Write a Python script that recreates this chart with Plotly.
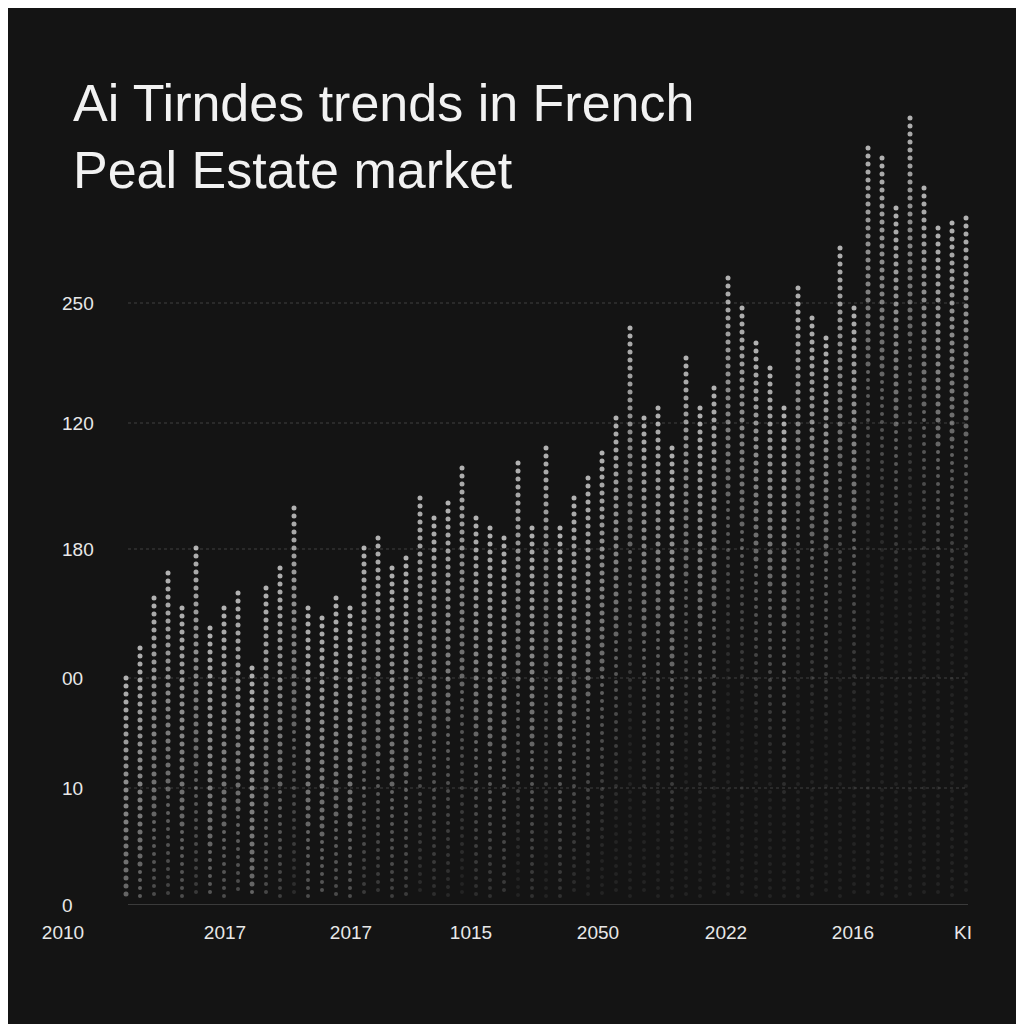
import plotly.graph_objects as go

# column x positions (axis units) and top of each dotted column
col_x = [118, 132, 146, 160, 174, 188, 202, 216, 230, 244, 258, 272, 286, 300, 314,
         328, 342, 356, 370, 384, 398, 412, 426, 440, 454, 468, 482, 496, 510, 524,
         538, 552, 566, 580, 594, 608, 622, 636, 650, 664, 678, 692, 706, 720, 734,
         748, 762, 776, 790, 804, 818, 832, 846, 860, 874, 888, 902, 916, 930, 944, 958]
col_height = [227, 257, 307, 332, 297, 357, 277, 297, 312, 237, 317, 337, 397, 297, 287,
              307, 297, 357, 367, 337, 347, 407, 387, 402, 437, 387, 377, 367, 442, 377,
              457, 377, 407, 427, 452, 487, 577, 487, 497, 457, 547, 497, 517, 627, 597,
              562, 537, 497, 617, 587, 567, 657, 597, 757, 747, 697, 787, 717, 677, 682, 687]

y_tick_vals = [0, 117, 227, 356, 482, 602]
y_tick_text = ["0", "10", "00", "180", "120", "250"]
x_tick_vals = [55, 217, 343, 463, 590, 718, 845, 955]
x_tick_text = ["2010", "2017", "2017", "1015", "2050", "2022", "2016", "ΚΙ"]

xs, ys, cols, sizes = [], [], [], []
for cx, h in zip(col_x, col_height):
    y = h
    while y > 8:
        depth = h - y
        a = max(0.1, 1 - depth / 450)
        xs.append(cx)
        ys.append(y)
        cols.append(f"rgba(245,245,245,{a:.2f})")
        sizes.append(5 if depth < 220 else 4)
        y -= 8

fig = go.Figure()
fig.add_trace(go.Scatter(x=xs, y=ys, mode="markers",
                         marker=dict(color=cols, size=sizes, line=dict(width=0)),
                         hoverinfo="skip", showlegend=False))

# faint gridlines
for v in y_tick_vals[1:]:
    fig.add_shape(type="line", x0=120, x1=960, y0=v, y1=v,
                  line=dict(color="rgba(120,120,120,0.45)", width=1, dash="dot"), layer="below")
fig.add_shape(type="line", x0=120, x1=960, y0=0, y1=0,
              line=dict(color="rgba(150,150,150,0.6)", width=1), layer="below")

for v, t in zip(y_tick_vals, y_tick_text):
    fig.add_annotation(x=52, y=v, text=t, showarrow=False, xanchor="left",
                       font=dict(size=19, color="#e8e8e8", family="Liberation Sans"))

fig.update_layout(
    width=1024, height=1024,
    paper_bgcolor="#141414", plot_bgcolor="#141414",
    margin=dict(l=40, r=59, t=100, b=127),
    title=dict(text="Ai Tirndes trends in French<br>Peal Estate market",
               x=65 / 1024, xanchor="left", y=0.89, yanchor="top",
               font=dict(size=52, color="#f2f2f2", family="Liberation Sans")),
    xaxis=dict(range=[40, 965], showgrid=False, zeroline=False, showline=False,
               tickvals=x_tick_vals, ticktext=x_tick_text, ticklabelstandoff=14,
               tickfont=dict(size=19, color="#e8e8e8", family="Liberation Sans")),
    yaxis=dict(range=[0, 797], showgrid=False, zeroline=False, showticklabels=False),
)

fig.write_html("out.html")
